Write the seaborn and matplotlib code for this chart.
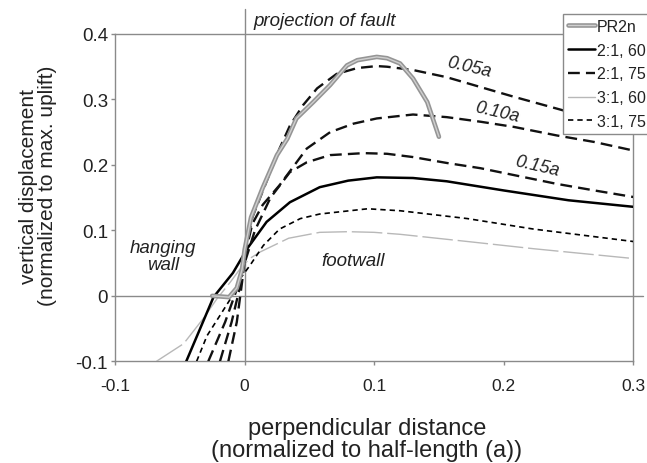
import numpy as np
import pandas as pd
import matplotlib
matplotlib.use("Agg")
import matplotlib.pyplot as plt
import matplotlib.patheffects as pe
from matplotlib.lines import Line2D
import seaborn as sns

# ---------------- data ----------------
pr2n_x = [-0.025, -0.012, -0.006, -0.002, 0.000, 0.005, 0.014, 0.025, 0.033, 0.040, 0.053,
          0.066, 0.079, 0.087, 0.102, 0.110, 0.120, 0.130, 0.141, 0.150]
pr2n_y = [0.000, -0.002, 0.012, 0.040, 0.070, 0.120, 0.165, 0.215, 0.240, 0.271, 0.296,
          0.322, 0.352, 0.360, 0.365, 0.363, 0.355, 0.332, 0.296, 0.243]

s21_60_x = [-0.045, -0.024, -0.009, 0.002, 0.017, 0.035, 0.058, 0.080, 0.102, 0.130,
            0.156, 0.200, 0.250, 0.300]
s21_60_y = [-0.100, -0.002, 0.035, 0.072, 0.113, 0.143, 0.166, 0.176, 0.181, 0.180,
            0.175, 0.161, 0.146, 0.136]

# 2:1, 75 — three depths
s21_75_005_x = [-0.0125, -0.006, -0.002, 0.001, 0.006, 0.017, 0.027, 0.035, 0.045, 0.056,
                0.071, 0.087, 0.102, 0.110, 0.130, 0.156, 0.182, 0.208, 0.241, 0.270, 0.300]
s21_75_005_y = [-0.100, -0.040, 0.020, 0.070, 0.120, 0.175, 0.225, 0.260, 0.291, 0.317,
                0.339, 0.348, 0.351, 0.350, 0.345, 0.334, 0.319, 0.304, 0.286, 0.270, 0.255]

s21_75_010_x = [-0.019, -0.010, -0.004, 0.000, 0.006, 0.014, 0.027, 0.048, 0.066, 0.084,
                0.102, 0.130, 0.156, 0.182, 0.208, 0.241, 0.270, 0.300]
s21_75_010_y = [-0.100, -0.040, 0.010, 0.060, 0.110, 0.139, 0.169, 0.225, 0.250, 0.263,
                0.271, 0.277, 0.273, 0.266, 0.258, 0.245, 0.235, 0.222]

s21_75_015_x = [-0.028, -0.015, -0.006, 0.000, 0.008, 0.020, 0.035, 0.048, 0.066, 0.092,
                0.110, 0.130, 0.156, 0.182, 0.241, 0.270, 0.300]
s21_75_015_y = [-0.100, -0.040, 0.010, 0.050, 0.100, 0.150, 0.189, 0.204, 0.215, 0.218,
                0.217, 0.212, 0.203, 0.195, 0.171, 0.161, 0.151]

s31_60_x = [-0.068, -0.047, -0.032, -0.0215, -0.011, -0.0035, 0.004, 0.012, 0.034, 0.058,
            0.080, 0.100, 0.120, 0.172, 0.223, 0.300]
s31_60_y = [-0.100, -0.073, -0.035, -0.005, 0.021, 0.041, 0.057, 0.067, 0.088, 0.097,
            0.098, 0.097, 0.094, 0.083, 0.072, 0.057]

s31_75_x = [-0.037, -0.029, -0.019, -0.011, -0.0035, 0.004, 0.0145, 0.027, 0.043, 0.058,
            0.095, 0.120, 0.172, 0.223, 0.300]
s31_75_y = [-0.100, -0.061, -0.030, -0.005, 0.026, 0.046, 0.077, 0.102, 0.118, 0.125,
            0.133, 0.130, 0.118, 0.102, 0.083]

x_ticks = [-0.1, 0, 0.1, 0.2, 0.3]
y_ticks = [-0.1, 0, 0.1, 0.2, 0.3, 0.4]
x_ticklabels = ["-0.1", "0", "0.1", "0.2", "0.3"]
y_ticklabels = ["-0.1", "0", "0.1", "0.2", "0.3", "0.4"]
legend_labels = ["PR2n", "2:1, 60", "2:1, 75", "3:1, 60", "3:1, 75"]
depth_labels = ["0.05a", "0.10a", "0.15a"]

# ---------------- style ----------------
sns.set_theme(style="white")
plt.rcParams["font.family"] = ["Liberation Sans", "DejaVu Sans"]

W, H = 647, 464
fig = plt.figure(figsize=(W / 100, H / 100), dpi=100)
L, R, T, B = 115, 633.3, 35, 362.3
ax = fig.add_axes([L / W, 1 - B / H, (R - L) / W, (B - T) / H])
ax.set_facecolor("white")

GRAY = "#8a8a8a"
TXT = "#222222"

# reference lines (fault projection and zero level)
ax.axvline(0, ymin=0, ymax=1 + (T - 10) / (B - T), color=GRAY, lw=1.0, clip_on=False, zorder=1)
ax.axhline(0, xmin=0, xmax=1 + (643 - R) / (R - L), color=GRAY, lw=1.0, clip_on=False, zorder=1)

LONG = (0, (5.0, 2.6))
SHORT = (0, (3.2, 2.4))
LGRAY = (0, (22, 3.5))

def draw(x, y, **kw):
    df = pd.DataFrame({"x": x, "y": y})
    sns.lineplot(data=df, x="x", y="y", ax=ax, sort=False, estimator=None, **kw)

draw(s31_60_x, s31_60_y, color="#b8b8b8", lw=1.0, linestyle=LGRAY, zorder=3)
draw(s31_75_x, s31_75_y, color="black", lw=1.2, linestyle=SHORT, zorder=3)
draw(s21_60_x, s21_60_y, color="black", lw=1.8, zorder=4)
draw(s21_75_015_x, s21_75_015_y, color="#111111", lw=1.7, linestyle=LONG, zorder=4)
draw(s21_75_010_x, s21_75_010_y, color="#111111", lw=1.7, linestyle=LONG, zorder=4)
draw(s21_75_005_x, s21_75_005_y, color="#111111", lw=1.7, linestyle=LONG, zorder=4)
pr_fx = [pe.Stroke(linewidth=3.3, foreground="#959595"), pe.Normal()]
draw(pr2n_x, pr2n_y, color="#cfcfcf", lw=1.0, zorder=5, path_effects=pr_fx)

ax.set_xlim(-0.1, 0.3)
ax.set_ylim(-0.1, 0.4)
ax.set_xticks(x_ticks)
ax.set_xticklabels(x_ticklabels)
ax.set_yticks(y_ticks)
ax.set_yticklabels(y_ticklabels)
ax.tick_params(axis="x", direction="out", length=3, width=1, color=GRAY, pad=9,
               labelsize=12.5, labelcolor=TXT, bottom=True)
ax.tick_params(axis="y", direction="out", length=3, width=1, color=GRAY, pad=2,
               labelsize=13.5, labelcolor=TXT, left=True)
ax.set_xlabel("")
ax.set_ylabel("")
for s in ax.spines.values():
    s.set_color(GRAY)
    s.set_linewidth(1.0)
    s.set_visible(True)
ax.grid(False)

# axis titles
fig.text(367 / W, 1 - 440 / H, "perpendicular distance\n(normalized to half-length (a))",
         ha="center", va="center", fontsize=17, color=TXT, linespacing=1.05)
fig.text(38 / W, 1 - 186 / H, "vertical displacement\n(normalized to max. uplift)",
         ha="center", va="center", rotation=90, fontsize=15, color=TXT, linespacing=1.05)

# annotations
fig.text(253 / W, 1 - 22 / H, "projection of fault", ha="left", va="center",
         fontsize=13.5, style="italic", color=TXT)
fig.text(163 / W, 1 - 257 / H, "hanging\nwall", ha="center", va="center",
         fontsize=13.5, style="italic", color=TXT, linespacing=1.0)
fig.text(353 / W, 1 - 262 / H, "footwall", ha="center", va="center",
         fontsize=13.5, style="italic", color=TXT)
for lab, (px, py) in zip(depth_labels, [(469, 68), (497, 113), (537, 167)]):
    fig.text(px / W, 1 - py / H, lab, ha="center", va="center", rotation=-13,
             fontsize=13, style="italic", color=TXT)

# legend
handles = [
    Line2D([], [], color="#cfcfcf", lw=1.0, path_effects=pr_fx),
    Line2D([], [], color="black", lw=1.8),
    Line2D([], [], color="#111111", lw=1.7, linestyle=LONG),
    Line2D([], [], color="#b8b8b8", lw=1.0),
    Line2D([], [], color="black", lw=1.2, linestyle=SHORT),
]
leg = fig.legend(handles, legend_labels, loc="upper left",
                 bbox_to_anchor=(563 / W, 1 - 15 / H), bbox_transform=fig.transFigure,
                 fontsize=11.5, handlelength=1.7, handletextpad=0.1, labelspacing=0.55,
                 borderpad=0.3, borderaxespad=0, frameon=True, fancybox=False,
                 framealpha=1, edgecolor=GRAY)
leg.get_frame().set_linewidth(1.0)
for t in leg.get_texts():
    t.set_color(TXT)

fig.savefig("out.png", dpi=100)
